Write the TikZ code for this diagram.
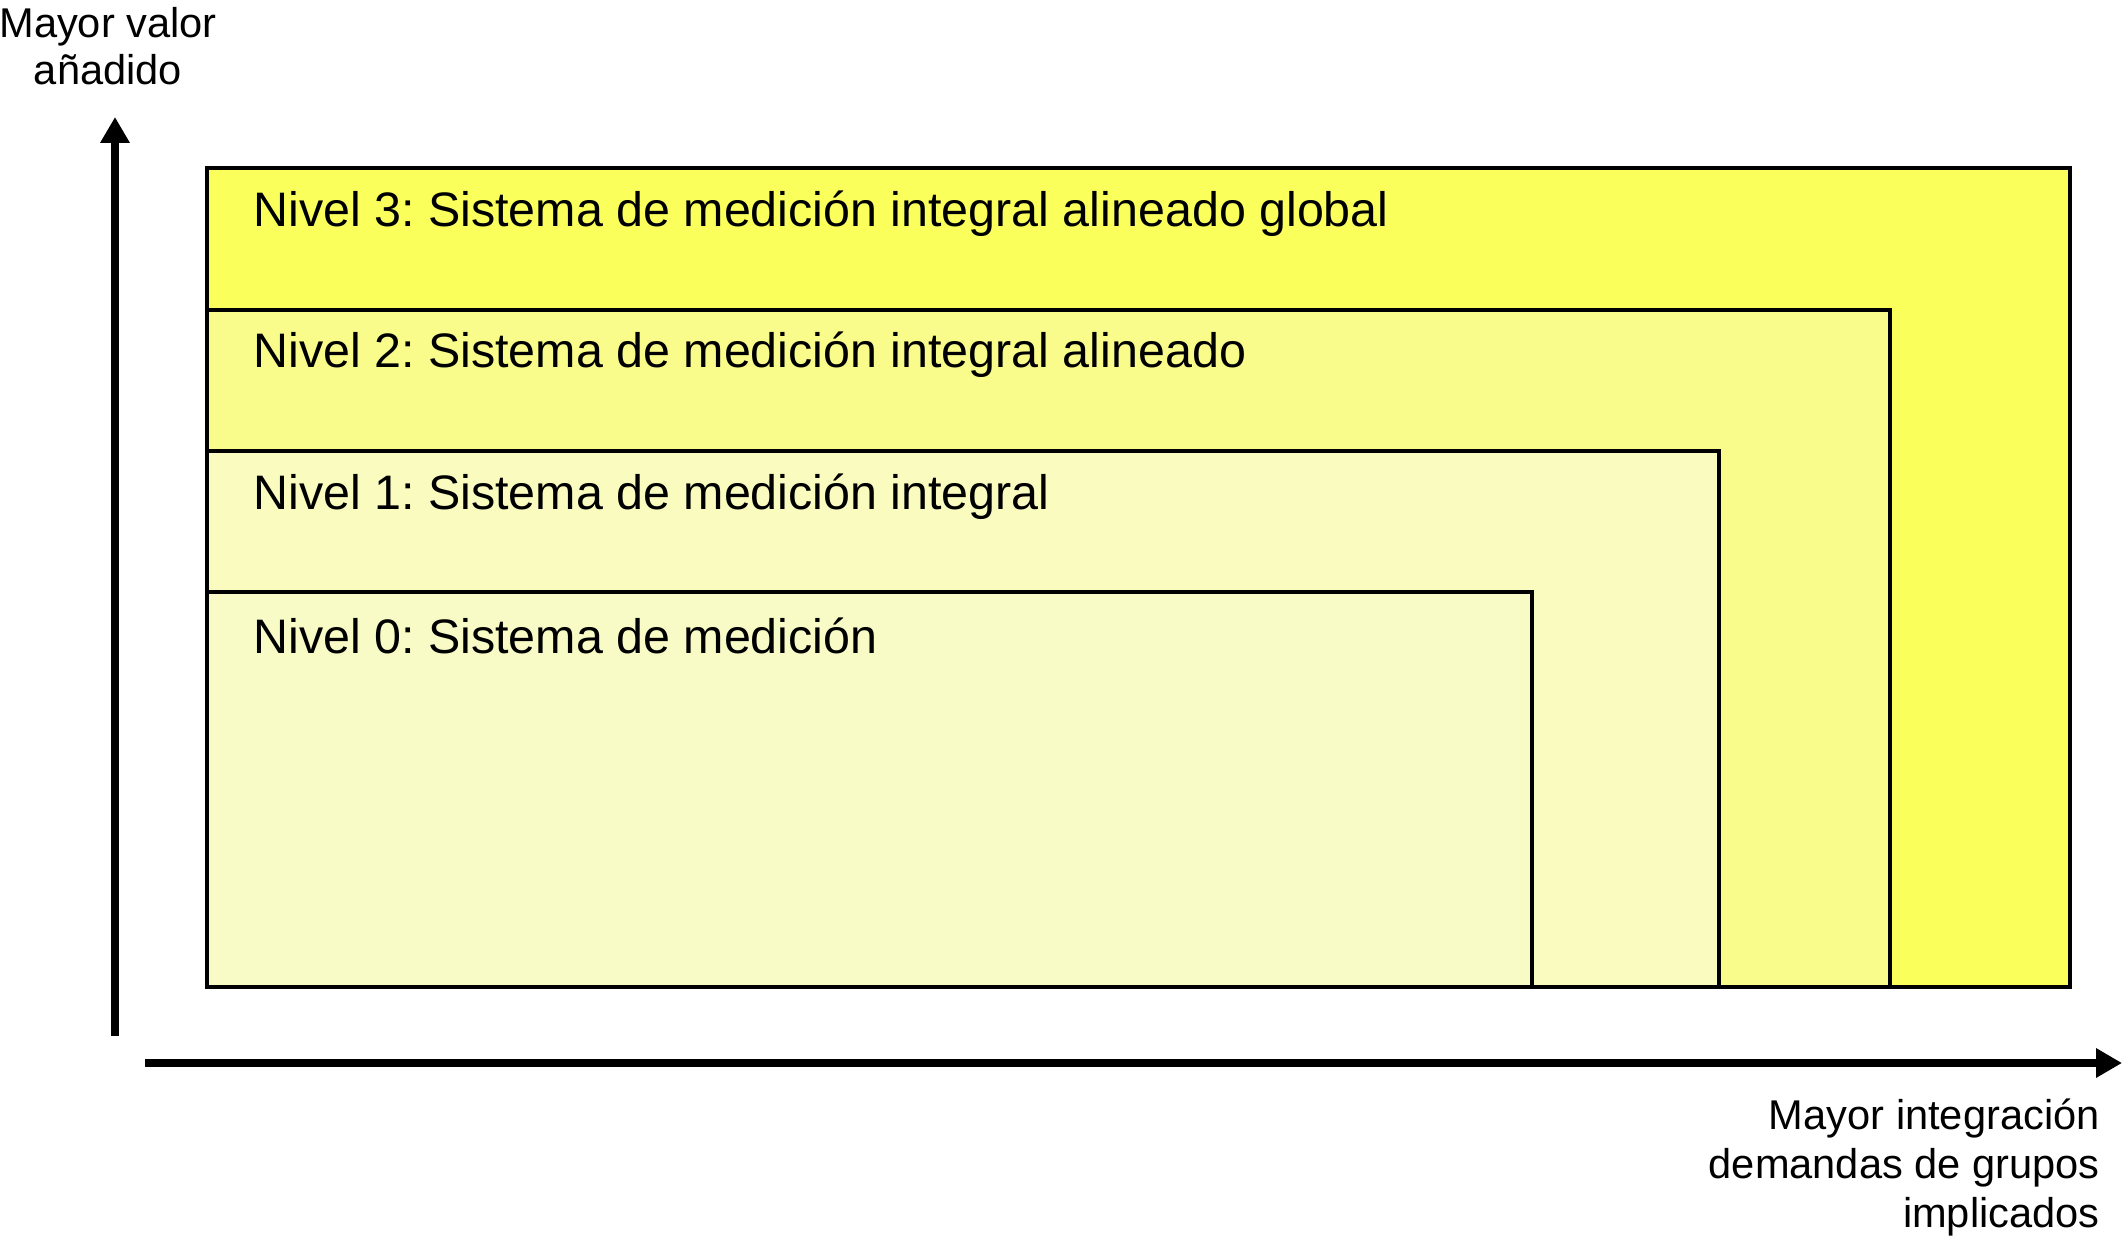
\documentclass[tikz,border=0pt]{standalone}
\usepackage{fontspec}
\setmainfont{Liberation Sans}
\usetikzlibrary{arrows.meta}
\definecolor{lvthree}{HTML}{FAFF5C}
\definecolor{lvtwo}{HTML}{F9FB8A}
\definecolor{lvone}{HTML}{F9FBBF}
\definecolor{lvzero}{HTML}{F8FBC6}
\frenchspacing
\begin{document}
\begin{tikzpicture}[x=0.5pt,y=-0.5pt,
  levelbox/.style={draw=black,line width=1.8pt},
  leveltext/.style={anchor=west,inner sep=0pt,font=\fontsize{24.2}{29}\selectfont},
  axislabel/.style={inner sep=0pt,font=\fontsize{20.8}{24}\selectfont},
  axisline/.style={line width=4pt,-{Triangle[length=13pt,width=14pt]}}]
\useasboundingbox (0,0) rectangle (2124,1240);
\draw[levelbox,fill=lvthree] (207,168) rectangle (2070,987);
\draw[levelbox,fill=lvtwo] (207,310) rectangle (1890,987);
\draw[levelbox,fill=lvone] (207,451) rectangle (1719,987);
\draw[levelbox,fill=lvzero] (207,592) rectangle (1532,987);
\node[leveltext] (n3) at (253,214) {Nivel 3: Sistema de medición integral alineado global};
\node[leveltext] (n2) at (253,355) {Nivel 2: Sistema de medición integral alineado};
\node[leveltext] (n1) at (253,497) {Nivel 1: Sistema de medición integral};
\node[leveltext] (n0) at (253,636) {Nivel 0: Sistema de medición};
\coordinate (yb) at (115,1036);
\coordinate (yt) at (115,117);
\coordinate (xl) at (145,1063);
\coordinate (xr) at (2122,1063);
\draw[axisline] (yb) -- (yt);
\draw[axisline] (xl) -- (xr);
\node[axislabel,align=center,font=\fontsize{20.8}{23.5}\selectfont] (ylab) at (108,46) {Mayor valor\\añadido};
\node[axislabel,align=right,anchor=east,font=\fontsize{20.8}{24.5}\selectfont] (xlab) at (2100,1167) {Mayor integración\\demandas de grupos\\implicados};
\end{tikzpicture}
\end{document}
